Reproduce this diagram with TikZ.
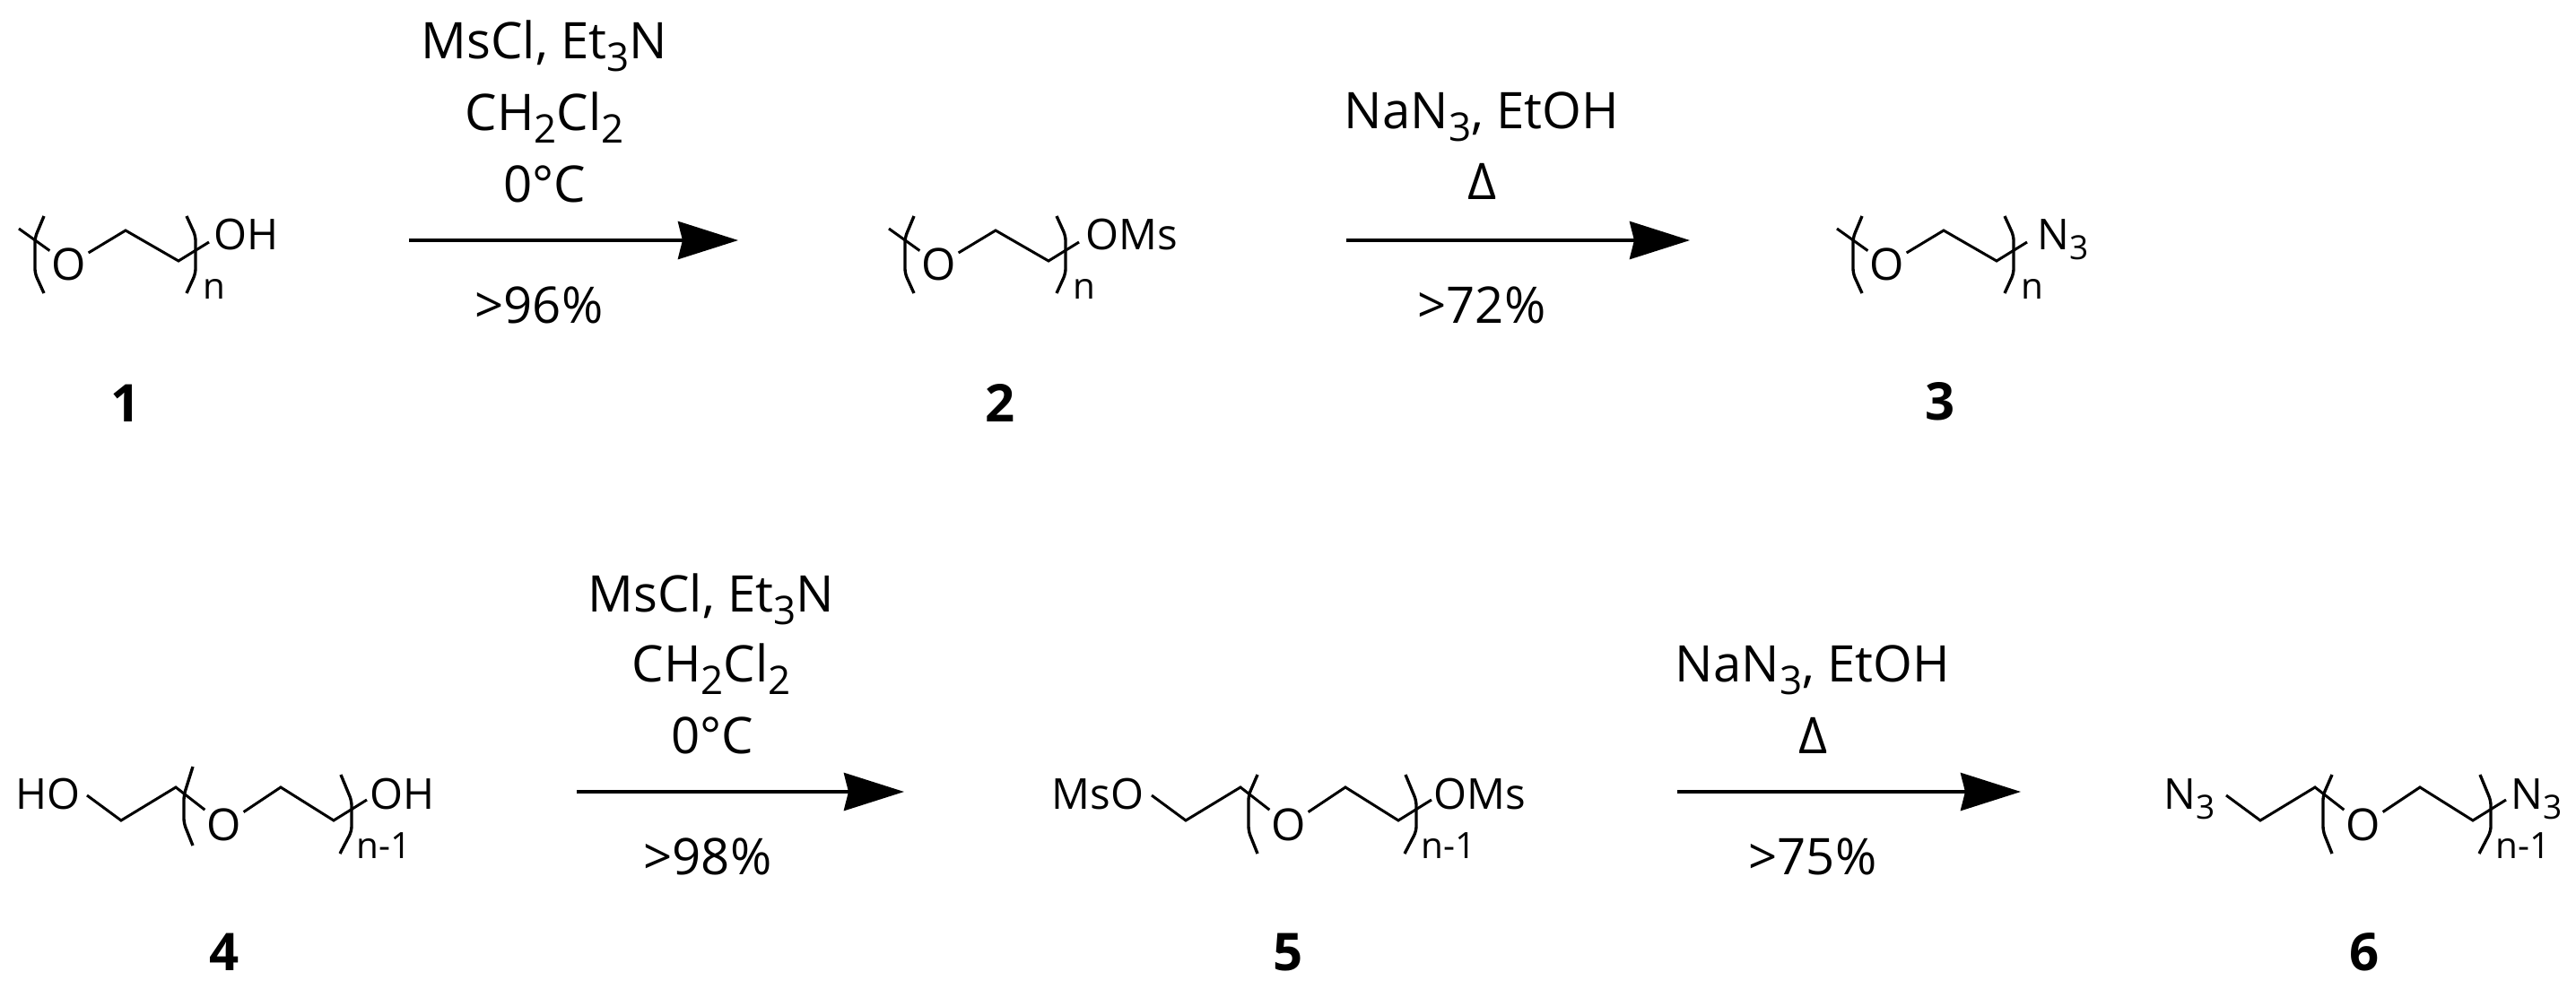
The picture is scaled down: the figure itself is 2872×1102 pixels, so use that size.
\documentclass[tikz,border=0pt]{standalone}
\usepackage{fontspec}
\setmainfont{Open Sans}
\usetikzlibrary{arrows.meta}
\newcommand{\chsub}[1]{\raisebox{-0.25em}{\scalebox{0.78}{#1}}}
\tikzset{
    reagent/.style={anchor=base, inner sep=0pt, font=\fontsize{16}{18}\selectfont},
    compound/.style={anchor=base, inner sep=0pt, font=\fontsize{16.5}{18}\selectfont\bfseries},
    atom/.style={anchor=base west, inner sep=0pt, font=\fontsize{13.5}{15}\selectfont},
    ring/.style={inner sep=0.5pt, font=\fontsize{14}{15}\selectfont},
    repeat/.style={anchor=base west, inner sep=0pt, font=\fontsize{11.5}{13}\selectfont},
    bond/.style={line width=0.85pt},
    bracket/.style={line width=0.95pt, rounded corners=1.5pt},
    yield/.style={line width=1.2pt, -{Stealth[length=0.67cm, width=0.42cm, inset=0.05cm]}}
}
\begin{document}
\begin{tikzpicture}[x=0.01cm, y=-0.01cm]
    \useasboundingbox (0,0) rectangle (2872,1102);

    % Top row
    \foreach \n/\dx in {1/0, 2/970, 3/2027} {
        \node[ring] (o\n) at (\dx+77,295) {O};
        \coordinate (tick\n) at (\dx+21,255);
        \coordinate (up\n) at (\dx+140,257);
        \coordinate (down\n) at (\dx+199,291);
        \coordinate (end\n) at (\dx+233,270);
        \draw[bond] (tick\n) -- (o\n) -- (up\n) -- (down\n) -- (end\n);
        \draw[bracket] (\dx+49,241) -- (\dx+39,265) -- (\dx+39,305) -- (\dx+49,327);
        \draw[bracket] (\dx+208,241) -- (\dx+218,263) -- (\dx+218,305) -- (\dx+208,327);
        \node[repeat] (n\n) at (\dx+226,333) {n};
    }
    \node[atom] (oh1) at (238,278) {OH};
    \node[atom] (oms2) at (1210,278) {OMs};
    \node[atom] (azide3) at (2271,278) {N\chsub{3}};

    % Bottom row
    \foreach \n/\dx/\dy in {4/0/-9, 5/1187/0, 6/2385/0} {
        \node[ring] (o\n) at (\dx+250,920) {O};
        \coordinate (start\n) at (\dx+97,887);
        \coordinate (low\n) at (\dx+135,915);
        \coordinate (high\n) at (\dx+196,878);
        \coordinate (up\n) at (\dx+313,878);
        \coordinate (down\n) at (\dx+372,915);
        \coordinate (end\n) at (\dx+409,892);
        \draw[bond] (start\n) -- (low\n) -- (high\n) -- (o\n) -- (up\n) -- (down\n) -- (end\n);
        \draw[bracket] (\dx+215,864+\dy) -- (\dx+205,887) -- (\dx+205,927+\dy) -- (\dx+215,952+\dy);
        \draw[bracket] (\dx+380,864) -- (\dx+392,893) -- (\dx+392,927) -- (\dx+379,952);
        \node[repeat] (n\n) at (\dx+397,957) {n-1};
    }
    \node[atom, anchor=base east] (ho4) at (90,902) {HO};
    \node[atom] (oh4) at (412,902) {OH};
    \node[atom, anchor=base east] (omsl5) at (1276,902) {MsO};
    \node[atom] (oms5) at (1598,902) {OMs};
    \node[atom, anchor=base east] (azidel6) at (2470,902) {N\chsub{3}};
    \node[atom] (azide6) at (2799,902) {N\chsub{3}};

    % Arrows
    \foreach \n/\xa/\xb/\ya in {a/456/823/268, b/1501/1884/268, c/643/1008/883, d/1870/2253/883} {
        \coordinate (from\n) at (\xa,\ya);
        \coordinate (to\n) at (\xb,\ya);
        \draw[yield] (from\n) -- (to\n);
    }

    % Conditions
    \node[reagent] (msa) at (607,65) {MsCl, Et\chsub{3}N};
    \node[reagent] (dcma) at (607,145) {CH\chsub{2}Cl\chsub{2}};
    \node[reagent] (tempa) at (607,225) {0°C};
    \node[reagent] (yielda) at (601,360) {>96\%};
    \node[reagent] (azb) at (1652,143) {NaN\chsub{3}, EtOH};
    \node[reagent] (heatb) at (1653,222) {Δ};
    \node[reagent] (yieldb) at (1652,360) {>72\%};
    \node[reagent] (msc) at (793,682) {MsCl, Et\chsub{3}N};
    \node[reagent] (dcmc) at (793,760) {CH\chsub{2}Cl\chsub{2}};
    \node[reagent] (tempc) at (794,840) {0°C};
    \node[reagent] (yieldc) at (789,975) {>98\%};
    \node[reagent] (azd) at (2021,760) {NaN\chsub{3}, EtOH};
    \node[reagent] (heatd) at (2022,840) {Δ};
    \node[reagent] (yieldd) at (2021,975) {>75\%};

    % Compound numbers
    \node[compound] (c1) at (140,470) {1};
    \node[compound] (c2) at (1115,470) {2};
    \node[compound] (c3) at (2163,468) {3};
    \node[compound] (c4) at (250,1082) {4};
    \node[compound] (c5) at (1436,1082) {5};
    \node[compound] (c6) at (2636,1082) {6};
\end{tikzpicture}
\end{document}
